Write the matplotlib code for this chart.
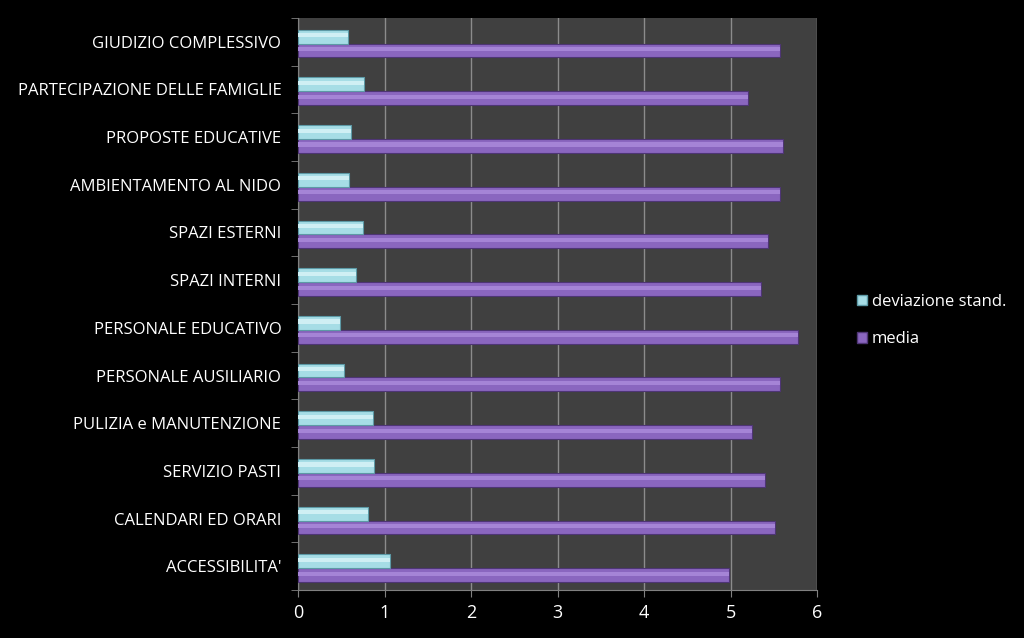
import numpy as np
import matplotlib
matplotlib.use("Agg")
import matplotlib.pyplot as plt
from matplotlib.patches import Patch

## DATA ##
categories = ["ACCESSIBILITA'", "CALENDARI ED ORARI", "SERVIZIO PASTI",
              "PULIZIA e MANUTENZIONE", "PERSONALE AUSILIARIO", "PERSONALE EDUCATIVO",
              "SPAZI INTERNI", "SPAZI ESTERNI", "AMBIENTAMENTO AL NIDO",
              "PROPOSTE EDUCATIVE", "PARTECIPAZIONE DELLE FAMIGLIE", "GIUDIZIO COMPLESSIVO"]
media = [4.98, 5.51, 5.40, 5.25, 5.57, 5.78, 5.35, 5.43, 5.57, 5.61, 5.20, 5.57]
dev_std = [1.06, 0.81, 0.88, 0.87, 0.53, 0.49, 0.67, 0.75, 0.59, 0.61, 0.76, 0.58]

plt.rcParams['font.family'] = ['Open Sans', 'DejaVu Sans']

fig = plt.figure(figsize=(10.24, 6.38), dpi=100, facecolor="black")
ax = fig.add_axes([0.291, 0.075, 0.507, 0.897])
ax.set_facecolor("#404040")

y = np.arange(len(categories))
h = 0.29
off = -0.04  # pair sits slightly below the category centre
purple, purple_hi, purple_dk = "#8a66bf", "#a584d6", "#4e3575"
cyan, cyan_hi, cyan_dk = "#a6dde6", "#cfeff4", "#5d9aa6"

# media bars (below) and deviazione bars (above)
ax.barh(y - h / 2 + off, media, height=h, color=purple, edgecolor=purple_dk, linewidth=0.8, zorder=3)
ax.barh(y - h / 2 + off + h * 0.1, media, height=h * 0.3, color=purple_hi, linewidth=0, zorder=4)
ax.barh(y + h / 2 + off, dev_std, height=h, color=cyan, edgecolor=cyan_dk, linewidth=0.8, zorder=3)
ax.barh(y + h / 2 + off + h * 0.1, dev_std, height=h * 0.3, color=cyan_hi, linewidth=0, zorder=4)

ax.set_xlim(0, 6)
ax.set_ylim(-0.5, len(categories) - 0.5)
ax.set_xticks(range(7))
ax.set_yticks(y)
ax.set_yticklabels(categories)
ax.set_yticks(np.arange(-0.5, len(categories)), minor=True)
ax.tick_params(axis="y", which="major", length=0, pad=12, labelcolor="white", labelsize=12)
ax.tick_params(axis="y", which="minor", length=5, color="#808080")
ax.tick_params(axis="x", length=5, color="#808080", labelcolor="white", labelsize=13, pad=5)
ax.xaxis.grid(True, color="#8c8c8c", linewidth=1, zorder=1)
ax.set_axisbelow(True)
for side in ["top", "right"]:
    ax.spines[side].set_visible(False)
for side in ["left", "bottom"]:
    ax.spines[side].set_color("#808080")

handles = [Patch(facecolor=cyan, edgecolor=cyan_dk, label="deviazione stand."),
           Patch(facecolor=purple, edgecolor=purple_dk, label="media")]
leg = fig.legend(handles=handles, loc="upper left", bbox_to_anchor=(0.822, 0.563),
                 frameon=False, fontsize=12, labelcolor="white", handlelength=0.6,
                 handleheight=0.6, handletextpad=0.3, labelspacing=1.3)

fig.savefig("out.png", dpi=100, facecolor="black")
